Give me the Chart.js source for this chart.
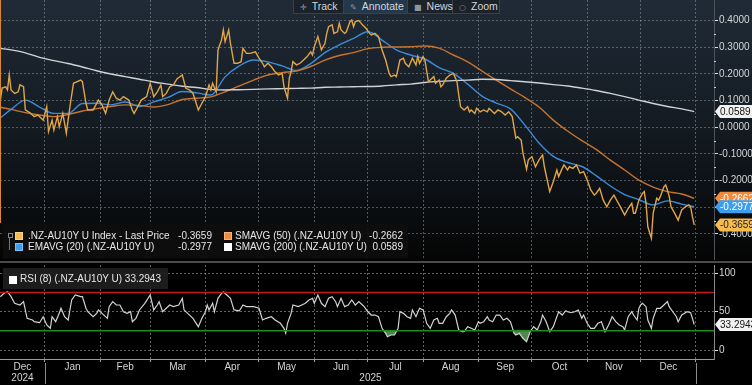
<!DOCTYPE html>
<html lang="en">
<head>
<meta charset="UTF-8">
<title>.NZ-AU10Y U Index</title>
<script src="https://cdn.jsdelivr.net/npm/chart.js"></script>
<style>
  html, body { margin: 0; padding: 0; background: #000; }
  body { width: 752px; height: 385px; position: relative; overflow: hidden;
         font-family: 'Liberation Sans', Arial, sans-serif; font-size: 10px; color: #e6e6e6; }
  canvas { position: absolute; left: 0; }
  #price-chart { top: 0; }
  #rsi-chart { top: 263px; }
  .sep { position: absolute; left: 0; top: 261px; width: 752px; height: 2px; background: #4b4b4b; }
  .box { position: absolute; background: rgba(14, 14, 14, 0.92); }
  .box span { position: absolute; white-space: nowrap; line-height: 12px; }
  .sw { width: 8px; height: 8px; box-sizing: border-box; border: 1px solid rgba(255,255,255,0.35); }
  .val { text-align: right; }
  #toolbar { position: absolute; left: 293px; top: 0; width: 207px; height: 14px; background: #1b2229;
             border: 1px solid #39414a; border-top: none; box-sizing: border-box; }
  .tbi { position: absolute; top: 0; height: 13px; line-height: 13px; border-right: 1px solid #39414a;
         color: #cfd5db; font-size: 10.5px; padding-left: 6px; box-sizing: border-box; white-space: nowrap; }
  .tbi.on { background: #24384b; }
  .ic { color: #8d959e; margin-right: 5px; font-family: 'DejaVu Sans', sans-serif; font-size: 8px; }
</style>
</head>
<body>
  <canvas id="price-chart" width="752" height="260"></canvas>
  <div class="sep"></div>
  <canvas id="rsi-chart" width="752" height="122"></canvas>

  <div id="toolbar">
    <div class="tbi" style="left:0;width:50px"><span class="ic">✛</span>Track</div>
    <div class="tbi on" style="left:50px;width:64px"><span class="ic">✎</span>Annotate</div>
    <div class="tbi" style="left:114px;width:45px"><span class="ic">■</span>News</div>
    <div class="tbi" style="left:159px;width:47px;border-right:none"><span class="ic">○</span>Zoom</div>
  </div>

  <div class="box" style="left:3px;top:224px;width:405px;height:34px">
    <span style="left:5px;top:9px;width:3px;height:3px;border:1px solid #888"></span>
    <span style="left:6px;top:13px;width:1px;height:13px;background:#777"></span>
    <span class="sw" style="left:12px;top:8px;background:#f6bb4e"></span>
    <span style="left:25px;top:6px" id="lg-name-0"></span>
    <span class="val" style="right:196px;top:6px" id="lg-val-0"></span>
    <span class="sw" style="left:221px;top:8px;background:#f28a3c"></span>
    <span style="left:232px;top:6px" id="lg-name-1"></span>
    <span class="val" style="right:5px;top:6px" id="lg-val-1"></span>
    <span class="sw" style="left:12px;top:19px;background:#3d9ef0"></span>
    <span style="left:25px;top:17px" id="lg-name-2"></span>
    <span class="val" style="right:196px;top:17px" id="lg-val-2"></span>
    <span class="sw" style="left:221px;top:19px;background:#ffffff"></span>
    <span style="left:232px;top:17px" id="lg-name-3"></span>
    <span class="val" style="right:5px;top:17px" id="lg-val-3"></span>
  </div>

  <div class="box" style="left:3px;top:268px;width:165px;height:21px;background:rgba(30,30,30,0.92)">
    <span class="sw" style="left:6px;top:8px;background:#ffffff"></span>
    <span style="left:17px;top:5px" id="lg-rsi"></span>
  </div>

  <script>
    // x values are calendar days counted from 1 Dec 2024
    const xMin = 5.8, xMax = 406.1;
    const monthStart = [31, 62, 90, 121, 151, 182, 212, 243, 274, 304, 335, 365, 396];
    const monthNames = ['Dec', 'Jan', 'Feb', 'Mar', 'Apr', 'May', 'Jun', 'Jul', 'Aug', 'Sep', 'Oct', 'Nov', 'Dec'];
    const yearBreaks = [31, 396];
    const yearLabels = ['2024', '2025'];

    const priceTicks = [-0.4, -0.3, -0.2, -0.1, 0, 0.1, 0.2, 0.3, 0.4];
    const rsiTicks = [0, 50, 100];
    const rsiBands = [75, 25];

    const seriesNames = ['.NZ-AU10Y U Index - Last Price', 'SMAVG (50) (.NZ-AU10Y U)',
                         'EMAVG (20) (.NZ-AU10Y U)', 'SMAVG (200) (.NZ-AU10Y U)'];
    const rsiName = 'RSI (8) (.NZ-AU10Y U)';

    const priceDay = [
      6, 7, 9, 10, 11, 12, 14, 16, 17, 19,
      20, 23, 25, 27, 30, 32, 33, 35, 36, 38,
      39, 41, 43, 45, 47, 51, 52, 54, 55, 58,
      61, 63, 65, 67, 69, 71, 73, 75, 78, 80,
      81, 83, 85, 88, 90, 92, 94, 96, 97, 99,
      101, 103, 105, 108, 110, 112, 114, 117, 119, 121,
      123, 124, 125, 127, 128, 130, 131, 132, 134, 135,
      137, 139, 141, 142, 144, 146, 149, 151, 153, 154,
      156, 158, 160, 162, 164, 165, 167, 168, 169, 170,
      172, 174, 176, 178, 180, 181, 182, 184, 186, 188,
      189, 190, 192, 193, 195, 196, 197, 199, 200, 202,
      203, 204, 205, 207, 209, 211, 213, 214, 216, 218,
      220, 222, 224, 225, 227, 228, 230, 232, 233, 235,
      237, 239, 240, 241, 243, 244, 246, 248, 249, 250,
      252, 253, 254, 256, 258, 260, 262, 263, 264, 266,
      268, 269, 270, 272, 273, 275, 277, 279, 280, 282,
      283, 285, 287, 289, 291, 293, 295, 296, 298, 299,
      301, 302, 304, 306, 308, 310, 311, 313, 314, 316,
      318, 319, 321, 322, 324, 325, 327, 329, 331, 333,
      335, 337, 339, 340, 342, 344, 346, 348, 350, 352,
      353, 355, 356, 358, 360, 361, 362, 364, 366, 367,
      368, 369, 371, 372, 374, 375, 376, 378, 379, 380,
      381, 382, 384, 386, 388, 390, 392, 393, 394, 395
    ];
    const lastPrice = [
      0.102, 0.147, 0.152, 0.140, 0.196, 0.140, 0.127, 0.133, 0.159, 0.152,
      0.065, 0.052, 0.040, 0.046, 0.027, 0.077, -0.016, 0.027, -0.010, 0.040,
      0.002, 0.052, -0.022, 0.077, 0.165, 0.177, 0.171, 0.090, 0.065, 0.065,
      0.102, 0.084, 0.052, 0.102, 0.133, 0.109, 0.102, 0.115, 0.102, 0.065,
      0.052, 0.077, 0.102, 0.115, 0.165, 0.115, 0.133, 0.159, 0.115, 0.127,
      0.152, 0.159, 0.181, 0.196, 0.146, 0.140, 0.127, 0.065, 0.090, 0.115,
      0.159, 0.140, 0.165, 0.133, 0.290, 0.327, 0.365, 0.321, 0.365, 0.315,
      0.240, 0.240, 0.246, 0.296, 0.277, 0.277, 0.283, 0.259, 0.240, 0.227,
      0.240, 0.227, 0.208, 0.196, 0.202, 0.152, 0.109, 0.184, 0.208, 0.246,
      0.234, 0.240, 0.252, 0.265, 0.283, 0.271, 0.302, 0.340, 0.290, 0.315,
      0.352, 0.377, 0.384, 0.352, 0.358, 0.390, 0.365, 0.352, 0.358, 0.396,
      0.402, 0.377, 0.396, 0.400, 0.384, 0.371, 0.352, 0.346, 0.352, 0.340,
      0.290, 0.252, 0.202, 0.190, 0.196, 0.190, 0.252, 0.259, 0.240, 0.227,
      0.259, 0.234, 0.265, 0.240, 0.265, 0.252, 0.171, 0.184, 0.190, 0.165,
      0.177, 0.152, 0.159, 0.184, 0.196, 0.202, 0.171, 0.121, 0.077, 0.065,
      0.077, 0.058, 0.065, 0.052, 0.071, 0.058, 0.065, 0.058, 0.071, 0.058,
      0.052, 0.065, 0.058, 0.046, 0.058, 0.040, -0.041, -0.035, -0.048, -0.097,
      -0.157, -0.122, -0.110, -0.148, -0.122, -0.104, -0.148, -0.210, -0.241, -0.204,
      -0.160, -0.185, -0.154, -0.141, -0.160, -0.148, -0.154, -0.141, -0.172, -0.166,
      -0.198, -0.235, -0.254, -0.248, -0.229, -0.273, -0.298, -0.273, -0.254, -0.279,
      -0.291, -0.316, -0.329, -0.304, -0.285, -0.322, -0.322, -0.273, -0.248, -0.241,
      -0.285, -0.373, -0.416, -0.322, -0.266, -0.273, -0.260, -0.223, -0.216, -0.235,
      -0.260, -0.298, -0.322, -0.348, -0.310, -0.298, -0.291, -0.298, -0.335, -0.3659
    ];

    const maDay = [
      6, 12, 20, 28, 36, 44, 52, 60, 68, 76,
      84, 92, 100, 108, 116, 124, 132, 140, 148, 156,
      164, 172, 180, 188, 196, 204, 212, 220, 228, 236,
      244, 252, 260, 268, 276, 284, 292, 300, 308, 316,
      324, 332, 340, 348, 356, 364, 372, 380, 388, 395
    ];
    const ema20 = [
      0.035, 0.067, 0.102, 0.076, 0.052, 0.052, 0.089, 0.090, 0.084, 0.095,
      0.078, 0.095, 0.112, 0.134, 0.129, 0.121, 0.189, 0.230, 0.252, 0.245,
      0.230, 0.213, 0.239, 0.280, 0.309, 0.333, 0.358, 0.327, 0.290, 0.271,
      0.256, 0.224, 0.202, 0.162, 0.117, 0.091, 0.069, 0.009, -0.059, -0.109,
      -0.132, -0.147, -0.181, -0.220, -0.252, -0.271, -0.291, -0.276, -0.288, -0.2977
    ];
    const sma50 = [
      0.075, 0.067, 0.055, 0.046, 0.040, 0.048, 0.061, 0.070, 0.078, 0.084,
      0.082, 0.076, 0.085, 0.104, 0.109, 0.114, 0.133, 0.155, 0.177, 0.196,
      0.205, 0.211, 0.228, 0.252, 0.269, 0.280, 0.295, 0.300, 0.301, 0.302,
      0.305, 0.297, 0.271, 0.245, 0.211, 0.177, 0.144, 0.112, 0.076, 0.027,
      -0.014, -0.050, -0.083, -0.123, -0.160, -0.198, -0.224, -0.241, -0.250, -0.2662
    ];
    const sma200 = [
      0.296, 0.290, 0.279, 0.262, 0.250, 0.239, 0.226, 0.212, 0.200, 0.190,
      0.180, 0.170, 0.162, 0.154, 0.149, 0.142, 0.140, 0.141, 0.142, 0.144,
      0.145, 0.146, 0.147, 0.150, 0.151, 0.152, 0.153, 0.155, 0.159, 0.162,
      0.168, 0.172, 0.175, 0.177, 0.180, 0.179, 0.175, 0.171, 0.166, 0.160,
      0.155, 0.147, 0.138, 0.127, 0.115, 0.102, 0.089, 0.078, 0.069, 0.0589
    ];

    const rsiDay = [
      6, 8, 10, 12, 14, 17, 19, 21, 24, 25,
      28, 30, 32, 34, 35, 37, 39, 40, 42, 44,
      46, 48, 51, 52, 54, 55, 58, 60, 61, 63,
      66, 67, 69, 71, 73, 75, 77, 79, 80, 82,
      84, 87, 90, 92, 94, 95, 97, 99, 101, 103,
      106, 108, 109, 111, 114, 117, 119, 121, 122, 123,
      125, 126, 128, 130, 131, 133, 135, 137, 140, 142,
      144, 148, 151, 153, 155, 158, 160, 163, 165, 166,
      167, 169, 170, 173, 175, 177, 179, 181, 182, 184,
      186, 188, 190, 192, 194, 195, 197, 199, 201, 203,
      205, 207, 209, 210, 212, 214, 216, 218, 220, 222,
      223, 225, 227, 229, 230, 232, 234, 236, 237, 239,
      241, 243, 245, 247, 249, 251, 252, 254, 256, 258,
      259, 261, 263, 265, 266, 268, 270, 272, 274, 275,
      277, 279, 280, 282, 284, 286, 288, 290, 292, 294,
      295, 297, 299, 301, 303, 305, 307, 309, 310, 312,
      314, 316, 318, 319, 321, 323, 324, 326, 328, 330,
      332, 333, 335, 337, 339, 341, 343, 344, 345, 347,
      349, 351, 353, 355, 356, 358, 360, 361, 363, 364,
      365, 366, 368, 369, 371, 372, 374, 376, 378, 380,
      381, 383, 385, 386, 388, 391, 393, 394, 395
    ];
    const rsi = [
      69.5, 73.9, 76.0, 69.5, 60.9, 58.7, 63.0, 41.3, 39.1, 36.9,
      35.6, 43.4, 32.6, 28.3, 43.4, 36.9, 47.8, 54.4, 43.4, 39.1,
      65.2, 71.7, 69.5, 69.5, 54.4, 49.9, 43.4, 47.8, 52.2, 47.8,
      41.3, 56.5, 63.0, 58.7, 58.7, 49.9, 47.8, 49.9, 36.9, 41.3,
      52.2, 60.9, 71.7, 52.2, 58.7, 63.0, 49.9, 54.4, 58.7, 56.5,
      58.7, 67.4, 52.2, 47.8, 41.3, 30.4, 41.3, 49.9, 58.7, 52.2,
      60.9, 49.9, 67.4, 73.9, 76.0, 71.7, 67.4, 52.2, 51.2, 58.7,
      56.5, 56.5, 54.4, 39.1, 41.3, 43.4, 39.1, 34.8, 28.3, 21.8,
      34.8, 47.8, 58.7, 56.5, 58.7, 60.9, 65.2, 67.4, 60.9, 71.7,
      60.9, 56.5, 67.4, 69.5, 63.0, 56.5, 67.4, 56.5, 58.7, 65.2,
      58.7, 63.0, 58.7, 56.5, 49.9, 45.6, 45.6, 43.4, 28.3, 21.8,
      17.3, 19.6, 19.6, 28.3, 49.9, 47.8, 43.4, 41.3, 52.2, 43.4,
      54.4, 52.2, 34.8, 28.3, 39.1, 41.3, 34.8, 34.8, 43.4, 47.8,
      52.2, 45.6, 26.1, 23.9, 23.9, 30.4, 28.3, 26.1, 36.9, 34.8,
      36.9, 43.4, 39.1, 36.9, 45.6, 45.6, 39.1, 41.3, 36.9, 21.8,
      19.6, 21.8, 15.3, 10.8, 23.9, 30.4, 26.1, 36.9, 45.6, 36.9,
      23.9, 30.4, 43.4, 49.9, 45.6, 51.2, 49.9, 48.6, 49.9, 52.2,
      41.3, 45.6, 34.8, 28.3, 28.3, 34.8, 36.9, 30.4, 23.9, 32.6,
      43.4, 36.9, 32.6, 30.4, 26.1, 43.4, 49.9, 45.6, 39.1, 54.4,
      58.7, 60.9, 56.5, 39.1, 28.3, 41.3, 54.4, 54.4, 58.7, 63.0,
      56.5, 49.9, 43.4, 36.9, 45.6, 49.9, 48.6, 41.3, 33.2943
    ];

    const colors = {
      last: '#e1a549', sma50: '#c8732f', ema20: '#3b8bd8', sma200: '#cfd2d6',
      grid: 'rgba(140,150,160,0.55)', rsiGrid: 'rgba(150,150,150,0.65)', text: '#d4d4d4'
    };

    Chart.defaults.font.family = "'Liberation Sans', Arial, sans-serif";
    Chart.defaults.font.size = 10;
    Chart.defaults.color = colors.text;

    const pts = (xs, ys) => xs.map((x, i) => ({ x: x, y: ys[i] }));
    const lastOf = arr => arr[arr.length - 1];

    const monthMid = monthStart.map((d, i) => ((i === 0 ? xMin : monthStart[i - 1]) + d) / 2);

    // fill the HTML legends from the data
    const legendVals = [lastOf(lastPrice), lastOf(sma50), lastOf(ema20), lastOf(sma200)];
    seriesNames.forEach((n, i) => {
      document.getElementById('lg-name-' + i).textContent = n;
      document.getElementById('lg-val-' + i).textContent = legendVals[i].toFixed(4);
    });
    document.getElementById('lg-rsi').textContent = rsiName + ' ' + lastOf(rsi).toFixed(4);

    // keep the plot edges flush with the canvas: no extra room for end labels
    function noPad(s) {
      s.paddingTop = 0; s.paddingBottom = 0; s.paddingLeft = 0; s.paddingRight = 0;
    }

    function drawTag(ctx, x0, y, text, bg, fg) {
      const h = 13, x1 = 752;
      ctx.beginPath();
      ctx.moveTo(x0, y);
      ctx.lineTo(x0 + 5, y - h / 2);
      ctx.lineTo(x1, y - h / 2);
      ctx.lineTo(x1, y + h / 2);
      ctx.lineTo(x0 + 5, y + h / 2);
      ctx.closePath();
      ctx.fillStyle = bg;
      ctx.fill();
      ctx.fillStyle = fg;
      ctx.font = "10px 'Liberation Sans', Arial, sans-serif";
      ctx.textAlign = 'left';
      ctx.textBaseline = 'middle';
      ctx.fillText(text, x0 + 5, y + 0.5);
    }

    const panelPlugin = {
      id: 'panel',
      beforeDraw(chart, args, opts) {
        const { ctx, width, height } = chart;
        ctx.save();
        if (opts.gradient) {
          const g = ctx.createLinearGradient(0, 0, 0, height);
          g.addColorStop(0, '#202b37');
          g.addColorStop(0.5, '#131a21');
          g.addColorStop(1, '#050505');
          ctx.fillStyle = g;
        } else {
          ctx.fillStyle = '#000';
        }
        ctx.fillRect(0, 0, width, height);
        ctx.restore();
      },
      afterDraw(chart, args, opts) {
        const { ctx, chartArea } = chart;
        const ys = chart.scales.y;
        ctx.save();
        if (opts.minor) {
          ctx.strokeStyle = '#cfcfcf';
          ctx.lineWidth = 1;
          opts.minor.forEach(v => {
            const py = Math.round(ys.getPixelForValue(v)) + 0.5;
            ctx.beginPath();
            ctx.moveTo(chartArea.right, py);
            ctx.lineTo(chartArea.right + 2, py);
            ctx.stroke();
          });
        }
        if (opts.edge) {
          ctx.fillStyle = '#d88a2a';
          ctx.fillRect(0, 0, 1, 223);
        }
        (opts.tags || []).forEach(t => {
          drawTag(ctx, chartArea.right + 1, ys.getPixelForValue(t.value), t.value.toFixed(4), t.bg, t.fg);
        });
        if (opts.years) {
          const xs = chart.scales.x;
          const edges = [xs.min].concat(yearBreaks);
          ctx.fillStyle = colors.text;
          ctx.font = "10px 'Liberation Sans', Arial, sans-serif";
          ctx.textAlign = 'center';
          ctx.textBaseline = 'middle';
          yearLabels.forEach((lab, i) => {
            const px = (xs.getPixelForValue(edges[i]) + xs.getPixelForValue(edges[i + 1])) / 2;
            ctx.fillText(lab, px, chartArea.bottom + 19);
          });
          ctx.strokeStyle = '#8a8a8a';
          yearBreaks.forEach(d => {
            const px = Math.round(xs.getPixelForValue(d)) + 0.5;
            ctx.beginPath();
            ctx.moveTo(px, chartArea.bottom + 4);
            ctx.lineTo(px, chart.height - 1);
            ctx.stroke();
          });
        }
        ctx.restore();
      }
    };

    const line = (data, color, extra) => Object.assign({
      data: data, borderColor: color, borderWidth: 1.4, pointRadius: 0, tension: 0, fill: false
    }, extra || {});

    new Chart(document.getElementById('price-chart'), {
      type: 'line',
      data: {
        datasets: [
          line(pts(priceDay, lastPrice), colors.last),
          line(pts(maDay, sma200), colors.sma200, { cubicInterpolationMode: 'monotone' }),
          line(pts(maDay, sma50), colors.sma50, { cubicInterpolationMode: 'monotone' }),
          line(pts(maDay, ema20), colors.ema20, { cubicInterpolationMode: 'monotone' })
        ]
      },
      options: {
        responsive: false,
        animation: false,
        events: [],
        layout: { padding: 0 },
        scales: {
          x: {
            type: 'linear', min: xMin, max: xMax,
            afterBuildTicks: s => { s.ticks = monthStart.map(v => ({ value: v })); },
            afterFit: s => { s.height = 0; noPad(s); },
            ticks: { display: false },
            grid: { color: colors.grid, drawTicks: false },
            border: { display: false, dash: [2, 2] }
          },
          y: {
            position: 'right', min: -0.4975, max: 0.4772,
            afterBuildTicks: s => { s.ticks = priceTicks.map(v => ({ value: v })); },
            afterFit: s => { s.width = 38; noPad(s); },
            ticks: { padding: 1, callback: v => v.toFixed(4) },
            grid: { color: colors.grid, tickColor: '#e0e0e0', tickLength: 4 },
            border: { display: true, color: '#4d545c', dash: [2, 2] }
          }
        },
        plugins: {
          legend: { display: false },
          tooltip: { enabled: false },
          panel: {
            gradient: true,
            edge: true,
            minor: priceTicks.slice(1).map((v, i) => (v + priceTicks[i]) / 2),
            tags: [
              { value: lastOf(sma200), bg: '#f2f2f2', fg: '#111' },
              { value: lastOf(sma50), bg: '#f28a3c', fg: '#fff' },
              { value: lastOf(ema20), bg: '#3d9ef0', fg: '#fff' },
              { value: lastOf(lastPrice), bg: '#f6bb4e', fg: '#222' }
            ]
          }
        }
      },
      plugins: [panelPlugin]
    });

    const rsiPts = pts(rsiDay, rsi);
    const band = v => [{ x: xMin, y: v }, { x: xMax, y: v }];
    const xTicks = monthStart.map(v => ({ value: v, major: true }))
      .concat(monthMid.map(v => ({ value: v, major: false })))
      .sort((a, b) => a.value - b.value);

    new Chart(document.getElementById('rsi-chart'), {
      type: 'line',
      data: {
        datasets: [
          line(band(rsiBands[0]), '#c41a1a', { borderWidth: 1.5 }),
          line(band(rsiBands[1]), '#1c8c1c', { borderWidth: 1.5 }),
          line(rsiPts, 'transparent', {
            borderWidth: 0,
            fill: { target: { value: rsiBands[0] }, above: 'rgba(190,60,60,0.8)', below: 'transparent' }
          }),
          line(rsiPts, '#d2d2d2', {
            borderWidth: 1.2,
            fill: { target: { value: rsiBands[1] }, above: 'transparent', below: 'rgba(88,150,88,0.9)' }
          })
        ]
      },
      options: {
        responsive: false,
        animation: false,
        events: [],
        layout: { padding: { top: 2 } },
        scales: {
          x: {
            type: 'linear', min: xMin, max: xMax,
            afterBuildTicks: s => { s.ticks = xTicks.map(t => ({ value: t.value, major: t.major })); },
            afterFit: s => { s.height = 26; noPad(s); },
            ticks: {
              autoSkip: false, maxRotation: 0, minRotation: 0, padding: -1,
              callback: v => { const i = monthMid.indexOf(v); return i < 0 ? '' : monthNames[i]; }
            },
            grid: {
              color: c => (c.tick && c.tick.major ? colors.rsiGrid : 'transparent'),
              tickColor: c => (c.tick && c.tick.major ? '#9a9a9a' : 'transparent'),
              tickLength: 3
            },
            border: { display: true, color: '#9a9a9a', dash: [2, 2] }
          },
          y: {
            position: 'right', min: -11.7, max: 110.8,
            afterBuildTicks: s => { s.ticks = rsiTicks.map(v => ({ value: v })); },
            afterFit: s => { s.width = 38; noPad(s); },
            ticks: { padding: 1 },
            grid: { color: colors.rsiGrid, tickColor: '#e0e0e0', tickLength: 4 },
            border: { display: true, color: '#8a8a8a', dash: [2, 2] }
          }
        },
        plugins: {
          legend: { display: false },
          tooltip: { enabled: false },
          panel: {
            years: true,
            tags: [{ value: lastOf(rsi), bg: '#f2f2f2', fg: '#111' }]
          }
        }
      },
      plugins: [panelPlugin]
    });
  </script>
</body>
</html>
